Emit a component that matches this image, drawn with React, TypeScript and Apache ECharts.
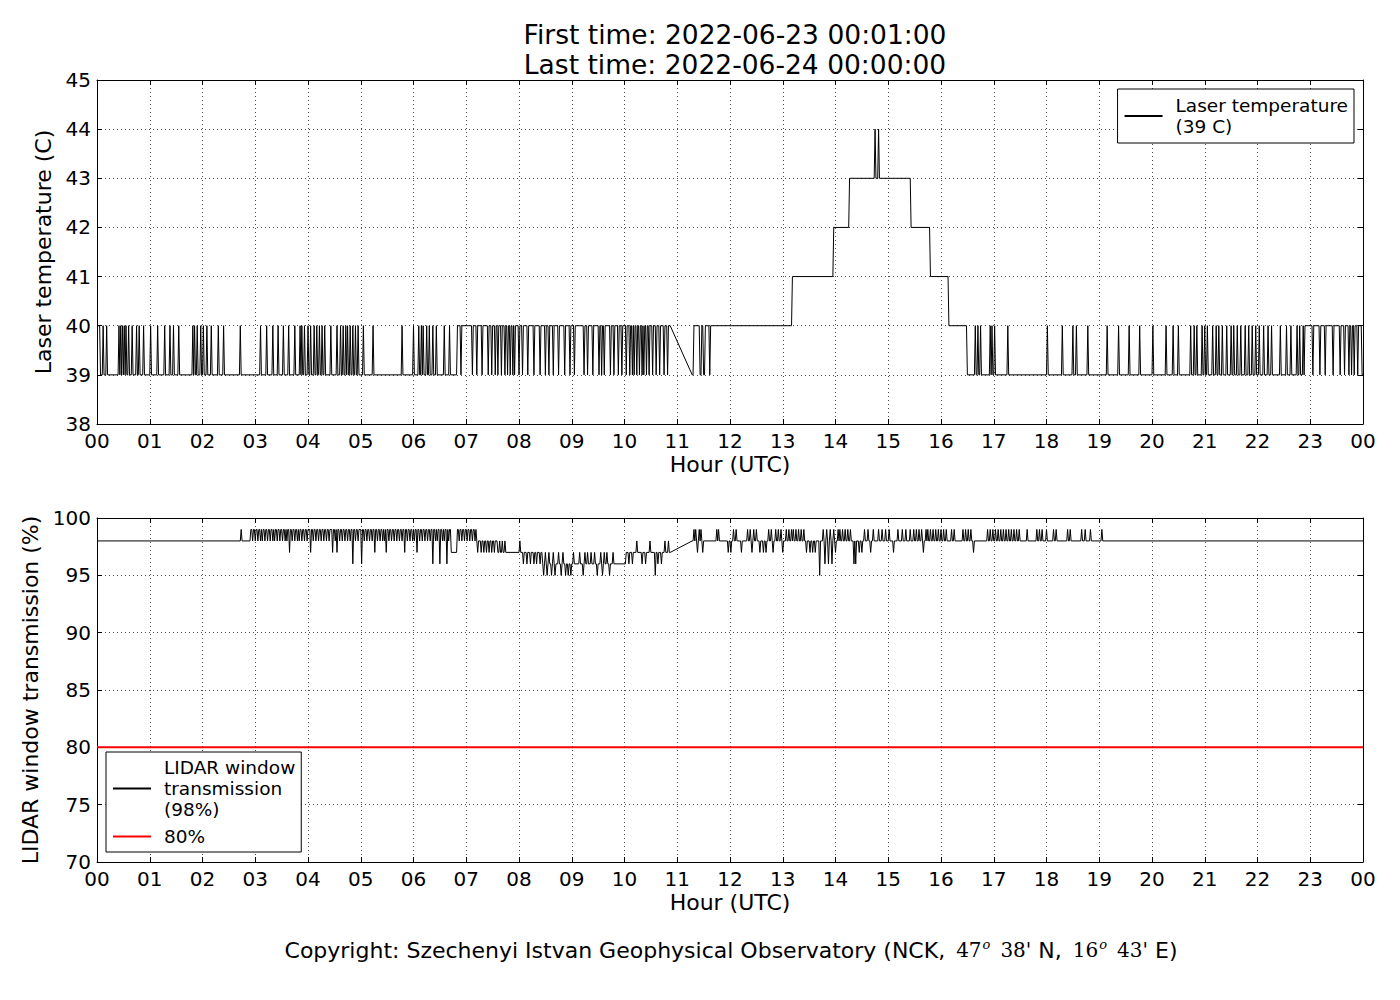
import React, { useEffect, useRef } from "react";
import * as echarts from "echarts";

const FONT = "DejaVu Sans";

// ---- Laser temperature (minutes since 2022-06-23 00:00 UTC) ----
// Base level segments: [startMinute, endMinute, baseValue]
const tempSegments = [
  [0, 409, 39], [410, 652, 40], [677, 678, 39], [679, 790, 40], [791, 837, 41],
  [838, 855, 42], [856, 925, 43], [926, 947, 42], [948, 968, 41], [969, 989, 40],
  [990, 1373, 39], [1374, 1438, 40], [1439, 1440, 39],
];
// Minutes where the reading briefly jumps to 40 C
const tempTo40 = [
  0, 1, 2, 3, 7, 11, 25, 27, 29, 31, 33, 36, 40, 45, 48, 53, 61, 69, 77, 83, 87, 93,
  109, 111, 114, 118, 121, 125, 130, 138, 144, 163, 186, 193, 200, 206, 212, 218,
  225, 231, 233, 236, 240, 243, 247, 250, 253, 256, 259, 266, 273, 277, 280, 283,
  285, 288, 291, 294, 297, 303, 314, 347, 360, 366, 369, 371, 375, 378, 382, 386,
  395, 401, 999, 1002, 1005, 1016, 1018, 1021, 1036, 1081, 1098, 1110, 1114, 1127,
  1149, 1162, 1174, 1186, 1201, 1216, 1224, 1230, 1244, 1248, 1251, 1257, 1260,
  1263, 1269, 1273, 1276, 1280, 1285, 1290, 1293, 1297, 1301, 1306, 1310, 1314,
  1318, 1322, 1327, 1332, 1336, 1346, 1353, 1358, 1365, 1368, 1372,
];
// Minutes where the reading briefly drops to 39 C
const tempTo39 = [
  414, 427, 432, 438, 445, 449, 453, 456, 460, 464, 467, 470, 473, 475, 480, 484,
  490, 497, 504, 510, 514, 519, 525, 532, 538, 543, 554, 558, 564, 571, 574, 577,
  584, 588, 593, 597, 602, 606, 609, 611, 614, 617, 620, 622, 625, 628, 632, 636,
  640, 645, 649, 686, 687, 690, 691, 697, 1383, 1391, 1397, 1406, 1414, 1419,
  1424, 1427, 1430, 1434,
];
// Minutes where the reading briefly reaches 44 C
const tempTo44 = [885, 889];

// ---- LIDAR window transmission (%) ----
const transSegments = [
  [0, 174, 98], [175, 402, 99], [403, 409, 97], [410, 431, 99], [432, 455, 98],
  [456, 506, 97], [507, 601, 96], [602, 652, 97], [677, 1440, 98],
];
const transTo99 = [
  164, 679, 681, 685, 687, 705, 707, 724, 727, 740, 743, 747, 750, 764, 767, 772,
  775, 778, 784, 787, 790, 792, 795, 798, 801, 804, 826, 830, 834, 838, 843, 845,
  848, 851, 854, 857, 873, 877, 883, 889, 893, 897, 901, 911, 916, 920, 925, 929,
  932, 935, 938, 943, 945, 948, 951, 954, 957, 960, 963, 966, 972, 975, 985, 988,
  991, 994, 1013, 1016, 1019, 1022, 1025, 1028, 1031, 1034, 1037, 1040, 1043, 1046,
  1049, 1058, 1069, 1072, 1075, 1080, 1088, 1091, 1104, 1107, 1120, 1124, 1130, 1143,
];
const transTo98 = [
  177, 180, 183, 186, 188, 191, 194, 197, 200, 202, 205, 208, 211, 214, 216, 222,
  225, 228, 230, 233, 236, 239, 246, 249, 252, 255, 258, 261, 264, 271, 276, 279,
  282, 285, 288, 294, 297, 304, 307, 310, 313, 319, 322, 325, 327, 332, 335, 338,
  341, 344, 347, 353, 356, 359, 361, 367, 370, 373, 376, 379, 385, 387, 393, 395,
  400, 412, 415, 418, 421, 424, 427, 430, 458, 461, 464, 481, 614, 629, 646, 650,
];
const transTo97 = [
  219, 243, 268, 273, 316, 329, 350, 364, 433, 437, 440, 443, 446, 449, 452, 510,
  514, 519, 525, 530, 542, 549, 555, 558, 562, 566, 573, 577, 580, 587, 683, 689,
  718, 721, 733, 745, 754, 758, 761, 769, 780, 807, 811, 814, 817, 840, 867, 870,
  880, 906, 940, 997,
];
const transTo96 = [
  291, 301, 382, 390, 398, 485, 489, 493, 497, 500, 504, 605, 609, 620, 624, 638,
  642, 828, 832, 836, 861, 863,
];
const transTo95 = [508, 512, 517, 521, 528, 533, 536, 539, 553, 569, 575, 583, 635, 822];

const thresholdValue = 80;
const tempName = "Laser temperature\n(39 C)";
const transName = "LIDAR window\ntransmission\n(98%)";
const thresholdName = "80%";

function buildSeries(segs: number[][], spikes: number[][]) {
  const pts = new Map<number, number>();
  const baseAt = (m: number) => {
    for (const [s, e, b] of segs) if (m >= s && m <= e) return b;
    return null;
  };
  for (const [s, e, b] of segs) {
    pts.set(s, b);
    pts.set(e, b);
  }
  for (const [m] of spikes) {
    for (const n of [m - 1, m + 1]) {
      const b = baseAt(n);
      if (b !== null && !pts.has(n)) pts.set(n, b);
    }
  }
  for (const [m, v] of spikes) pts.set(m, v);
  return [...pts.entries()].sort((a, b) => a[0] - b[0]);
}

const tempData = buildSeries(tempSegments, [
  ...tempTo40.map((m) => [m, 40]),
  ...tempTo39.map((m) => [m, 39]),
  ...tempTo44.map((m) => [m, 44]),
]);
const transData = buildSeries(transSegments, [
  ...transTo99.map((m) => [m, 99]),
  ...transTo98.map((m) => [m, 98]),
  ...transTo97.map((m) => [m, 97]),
  ...transTo96.map((m) => [m, 96]),
  ...transTo95.map((m) => [m, 95]),
]);

const hourLabel = (v: number) => String(Math.round(v / 60) % 24).padStart(2, "0");

const black = "#000";
const dotted = { show: true, lineStyle: { color: black, type: [1, 3] as any, width: 0.7 } };
const tick = { show: true, inside: true, length: 5, lineStyle: { color: black, width: 1 } };
const line = { show: true, onZero: false, lineStyle: { color: black, width: 1 } };
const labelStyle = { color: black, fontSize: 20, fontFamily: FONT };
const nameStyle = { color: black, fontSize: 22, fontFamily: FONT };

function mainX(gridIndex: number) {
  return {
    type: "value", gridIndex, min: 0, max: 1440, interval: 60,
    axisLabel: { ...labelStyle, formatter: hourLabel, margin: 7 },
    axisTick: tick, axisLine: line, splitLine: dotted,
    name: "Hour (UTC)", nameLocation: "middle", nameGap: 29, nameTextStyle: nameStyle,
  };
}
function topX(gridIndex: number) {
  return {
    type: "value", gridIndex, min: 0, max: 1440, interval: 60, position: "top",
    axisLabel: { show: false }, axisTick: tick, axisLine: line, splitLine: { show: false },
  };
}
function mainY(gridIndex: number, min: number, max: number, interval: number, name: string, gap: number) {
  return {
    type: "value", gridIndex, min, max, interval,
    axisLabel: { ...labelStyle, margin: 6 },
    axisTick: tick, axisLine: line, splitLine: dotted,
    name, nameLocation: "middle", nameGap: gap, nameTextStyle: nameStyle,
  };
}
function rightY(gridIndex: number, min: number, max: number, interval: number) {
  return {
    type: "value", gridIndex, min, max, interval, position: "right",
    axisLabel: { show: false }, axisTick: tick, axisLine: line, splitLine: { show: false },
  };
}

const legendText = { color: black, fontSize: 18.5, fontFamily: FONT, lineHeight: 21, padding: [0, 0, 0, 8] };

const option: any = {
  animation: false,
  backgroundColor: "#fff",
  textStyle: { fontFamily: FONT },
  title: {
    text: "First time: 2022-06-23 00:01:00\nLast time: 2022-06-24 00:00:00",
    left: 730, top: 14, textAlign: "center",
    textStyle: { color: black, fontSize: 26.5, fontWeight: "normal", fontFamily: FONT, lineHeight: 30 },
  },
  grid: [
    { left: 97, top: 80, width: 1266, height: 344 },
    { left: 97, top: 518, width: 1266, height: 344 },
  ],
  xAxis: [mainX(0), mainX(1), topX(0), topX(1)],
  yAxis: [
    mainY(0, 38, 45, 1, "Laser temperature (C)", 37),
    mainY(1, 70, 100, 5, "LIDAR window transmission (%)", 51),
    rightY(0, 38, 45, 1),
    rightY(1, 70, 100, 5),
  ],
  legend: [
    {
      data: [tempName], right: 46, top: 89, orient: "vertical",
      itemWidth: 38, itemHeight: 14, padding: [6, 6, 6, 6],
      borderColor: black, borderWidth: 1, borderRadius: 0, backgroundColor: "#fff",
      itemStyle: { opacity: 0 },
      textStyle: legendText,
    },
    {
      data: [transName, thresholdName], left: 106, top: 752, orient: "vertical",
      itemWidth: 38, itemHeight: 14, itemGap: 6, padding: [5, 6, 5, 6],
      borderColor: black, borderWidth: 1, borderRadius: 0, backgroundColor: "#fff",
      itemStyle: { opacity: 0 },
      textStyle: legendText,
    },
  ],
  series: [
    {
      name: tempName, type: "line", xAxisIndex: 0, yAxisIndex: 0, data: tempData,
      showSymbol: false, symbol: "none", lineStyle: { color: black, width: 1 }, itemStyle: { color: black },
    },
    {
      name: transName, type: "line", xAxisIndex: 1, yAxisIndex: 1, data: transData,
      showSymbol: false, symbol: "none", lineStyle: { color: black, width: 1 }, itemStyle: { color: black },
    },
    {
      name: thresholdName, type: "line", xAxisIndex: 1, yAxisIndex: 1,
      data: [[0, thresholdValue], [1440, thresholdValue]],
      showSymbol: false, symbol: "none", lineStyle: { color: "#ff0000", width: 2 }, itemStyle: { color: "#ff0000" },
    },
  ],
  graphic: [
    {
      type: "text", x: 731, y: 950,
      style: {
        text:
          "{a|Copyright: Szechenyi Istvan Geophysical Observatory (NCK, }{m|47}{s|o}{g|38'}{a| N, }{m|16}{s|o}{g|43'}{a| E)}",
        align: "center", verticalAlign: "middle", fill: black,
        rich: {
          a: { fontSize: 22, fontFamily: FONT, color: black },
          m: { fontSize: 20, fontFamily: "DejaVu Serif", color: black, padding: [0, 0, 0, 4] },
          g: { fontSize: 20, fontFamily: "DejaVu Serif", color: black, padding: [0, 0, 0, 10] },
          s: { fontSize: 13, fontFamily: "DejaVu Serif", fontStyle: "italic", color: black, padding: [0, 0, 12, 1] },
        },
      },
    },
  ],
};

export default function App() {
  const ref = useRef<HTMLDivElement>(null);
  useEffect(() => {
    const chart = echarts.init(ref.current!, null, { renderer: "svg" });
    chart.setOption(option);
    return () => chart.dispose();
  }, []);
  return (
    <div
      ref={ref}
      style={{ position: "fixed", left: 0, top: 0, width: 1400, height: 1000, background: "#fff" }}
    />
  );
}
